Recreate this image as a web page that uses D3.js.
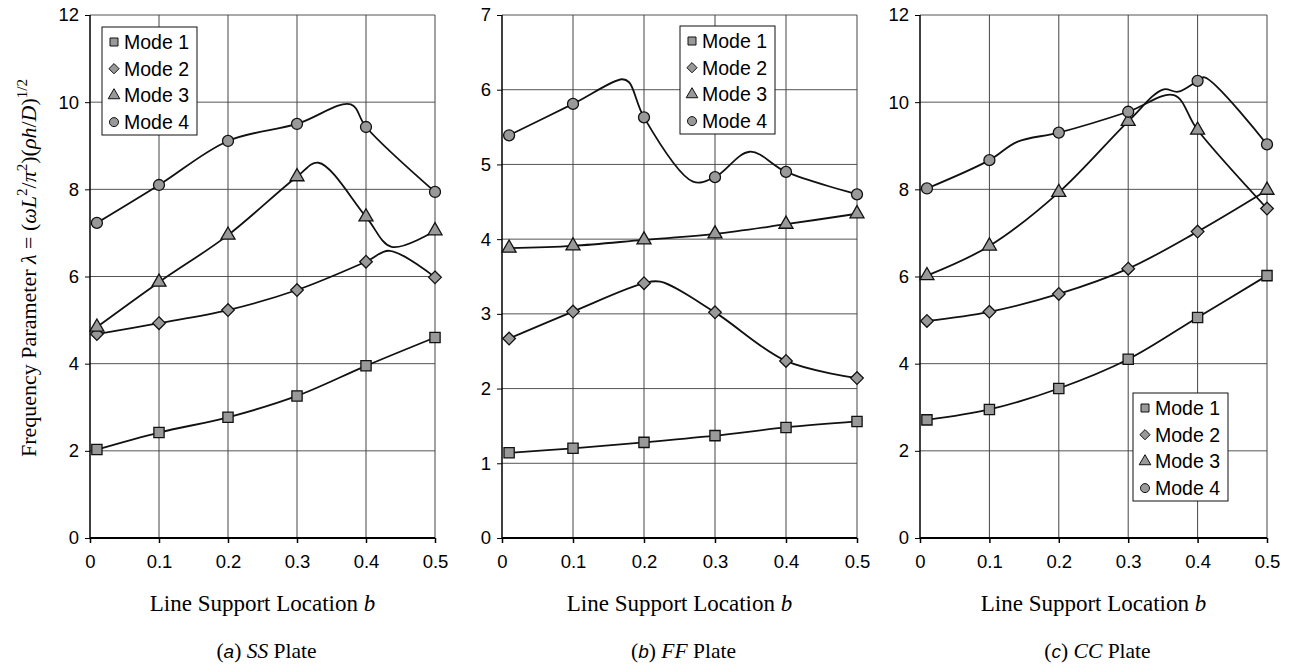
<!DOCTYPE html>
<html>
<head>
<meta charset="utf-8">
<script src="https://cdn.jsdelivr.net/npm/d3@7"></script>
<style>
  body { margin: 0; background: #fff; }
  text { fill: #000; }
</style>
</head>
<body>
<script>
const modeNames = ['Mode 1', 'Mode 2', 'Mode 3', 'Mode 4'];
const bValues = [0.01, 0.1, 0.2, 0.3, 0.4, 0.5];
const xTickValues = [0, 0.1, 0.2, 0.3, 0.4, 0.5];

// (a) SS plate: marker values per mode
const ssMode1 = [2.03, 2.42, 2.77, 3.26, 3.95, 4.6];
const ssMode2 = [4.68, 4.93, 5.23, 5.69, 6.34, 5.98];
const ssMode3 = [4.84, 5.87, 6.95, 8.29, 7.37, 7.05];
const ssMode4 = [7.23, 8.1, 9.11, 9.5, 9.43, 7.94];
// curves, including the peaks and dips between markers
const ssCurve1 = [[0.01, 2.03], [0.1, 2.42], [0.2, 2.77], [0.3, 3.26], [0.4, 3.95], [0.5, 4.6]];
const ssCurve2 = [[0.01, 4.68], [0.1, 4.93], [0.2, 5.23], [0.3, 5.69], [0.4, 6.34], [0.434, 6.59], [0.5, 5.98]];
const ssCurve3 = [[0.01, 4.84], [0.1, 5.87], [0.2, 6.95], [0.3, 8.29], [0.331, 8.61], [0.4, 7.37], [0.437, 6.68], [0.5, 7.05]];
const ssCurve4 = [[0.01, 7.23], [0.1, 8.1], [0.2, 9.11], [0.3, 9.5], [0.378, 9.95], [0.4, 9.43], [0.5, 7.94]];

// (b) FF plate
const ffMode1 = [1.14, 1.2, 1.28, 1.37, 1.48, 1.56];
const ffMode2 = [2.67, 3.03, 3.41, 3.02, 2.37, 2.14];
const ffMode3 = [3.88, 3.91, 3.99, 4.07, 4.2, 4.34];
const ffMode4 = [5.39, 5.81, 5.63, 4.83, 4.9, 4.6];
const ffCurve1 = [[0.01, 1.14], [0.1, 1.2], [0.2, 1.28], [0.3, 1.37], [0.4, 1.48], [0.5, 1.56]];
const ffCurve2 = [[0.01, 2.67], [0.1, 3.03], [0.2, 3.41], [0.223, 3.43], [0.3, 3.02], [0.4, 2.37], [0.5, 2.14]];
const ffCurve3 = [[0.01, 3.88], [0.1, 3.91], [0.2, 3.99], [0.3, 4.07], [0.4, 4.2], [0.5, 4.34]];
const ffCurve4 = [[0.01, 5.39], [0.1, 5.81], [0.169, 6.14], [0.179, 6.1], [0.2, 5.63], [0.269, 4.77], [0.3, 4.83], [0.349, 5.17], [0.4, 4.9], [0.5, 4.6]];

// (c) CC plate
const ccMode1 = [2.71, 2.95, 3.43, 4.1, 5.06, 6.02];
const ccMode2 = [4.98, 5.19, 5.6, 6.18, 7.03, 7.56];
const ccMode3 = [6.02, 6.7, 7.93, 9.56, 9.36, 7.98];
const ccMode4 = [8.02, 8.67, 9.3, 9.78, 10.49, 9.03];
const ccCurve1 = [[0.01, 2.71], [0.1, 2.95], [0.2, 3.43], [0.3, 4.1], [0.4, 5.06], [0.5, 6.02]];
const ccCurve2 = [[0.01, 4.98], [0.1, 5.19], [0.2, 5.6], [0.3, 6.18], [0.4, 7.03], [0.5, 7.98]];
const ccCurve3 = [[0.01, 6.02], [0.1, 6.7], [0.2, 7.93], [0.3, 9.56], [0.35, 10.29], [0.372, 10.24], [0.4, 10.49], [0.41, 10.57], [0.5, 9.03]];
const ccCurve4 = [[0.01, 8.02], [0.1, 8.67], [0.14, 9.09], [0.2, 9.3], [0.3, 9.78], [0.366, 10.16], [0.4, 9.36], [0.5, 7.56]];

const ssTicks = [0, 2, 4, 6, 8, 10, 12];
const ffTicks = [0, 1, 2, 3, 4, 5, 6, 7];
const ccTicks = [0, 2, 4, 6, 8, 10, 12];

const panels = [
  {left: 90, right: 435, yMax: 12, yTicks: ssTicks, modes: [ssMode1, ssMode2, ssMode3, ssMode4],
   curves: [ssCurve1, ssCurve2, ssCurve3, ssCurve4], legend: [102, 27], tag: 'a', plate: 'SS'},
  {left: 502, right: 857, yMax: 7, yTicks: ffTicks, modes: [ffMode1, ffMode2, ffMode3, ffMode4],
   curves: [ffCurve1, ffCurve2, ffCurve3, ffCurve4], legend: [680, 26], tag: 'b', plate: 'FF'},
  {left: 920, right: 1267, yMax: 12, yTicks: ccTicks, modes: [ccMode1, ccMode2, ccMode3, ccMode4],
   curves: [ccCurve1, ccCurve2, ccCurve3, ccCurve4], legend: [1133, 393], tag: 'c', plate: 'CC'}
];

const plotTop = 15, plotBottom = 538;
const sans = '"Liberation Sans", Arial, sans-serif',
    serif = '"Liberation Serif", "Times New Roman", serif';

// Excel style diamond: a square turned by 45 degrees
const squareDiamond = {
  draw(ctx, size) {
    const r = Math.sqrt(size / 2);
    ctx.moveTo(0, -r);
    ctx.lineTo(r, 0);
    ctx.lineTo(0, r);
    ctx.lineTo(-r, 0);
    ctx.closePath();
  }
};
const symbols = [d3.symbolSquare, squareDiamond, d3.symbolTriangle, d3.symbolCircle];
const symbolSizes = [105, 80, 85, 95];
const legendSizes = [64, 52, 58, 64];

const svg = d3.select('body').append('svg')
    .attr('width', 1292)
    .attr('height', 667);

panels.forEach(p => {
  const x = d3.scaleLinear().domain([0, 0.5]).range([p.left, p.right]);
  const y = d3.scaleLinear().domain([0, p.yMax]).range([plotBottom, plotTop]);
  const g = svg.append('g');

  // grid
  g.append('g').selectAll('line').data(p.yTicks.filter(t => t > 0)).join('line')
      .attr('x1', p.left).attr('x2', p.right)
      .attr('y1', d => y(d)).attr('y2', d => y(d))
      .attr('stroke', '#555').attr('stroke-width', 1);
  g.append('g').selectAll('line').data(xTickValues.filter(t => t > 0)).join('line')
      .attr('x1', d => x(d)).attr('x2', d => x(d))
      .attr('y1', plotTop).attr('y2', plotBottom)
      .attr('stroke', '#444').attr('stroke-width', 1);

  // axes
  const yAxis = d3.axisLeft(y).tickValues(p.yTicks).tickFormat(d3.format('d')).tickSize(5).tickPadding(6);
  const ya = g.append('g').attr('transform', `translate(${p.left},0)`).call(yAxis);
  ya.select('.domain').attr('stroke', '#000').attr('stroke-width', 1.5).attr('d', `M0,${plotTop}V${plotBottom}`);
  ya.selectAll('text').attr('font-family', sans).attr('font-size', 18.5).attr('fill', '#000');

  const xAxis = d3.axisBottom(x).tickValues(xTickValues)
      .tickFormat(d => d === 0 ? '0' : d3.format('.1f')(d)).tickSize(5).tickPadding(12);
  const xa = g.append('g').attr('transform', `translate(0,${plotBottom})`).call(xAxis);
  xa.select('.domain').attr('stroke', '#000').attr('stroke-width', 2).attr('d', `M${p.left},0H${p.right}`);
  xa.selectAll('.tick line').attr('stroke-width', 1.5);
  xa.selectAll('text').attr('font-family', sans).attr('font-size', 18.5).attr('fill', '#000');

  // curves
  const line = d3.line().x(d => x(d[0])).y(d => y(d[1])).curve(d3.curveCatmullRom.alpha(0.5));
  g.append('g').selectAll('path').data(p.curves).join('path')
      .attr('d', line)
      .attr('fill', 'none').attr('stroke', '#111').attr('stroke-width', 1.8);

  // markers
  p.modes.forEach((vals, i) => {
    g.append('g').selectAll('path').data(vals).join('path')
        .attr('transform', (d, j) => `translate(${x(bValues[j])},${y(d)})`)
        .attr('d', d3.symbol(symbols[i], symbolSizes[i]))
        .attr('fill', '#999').attr('stroke', '#111').attr('stroke-width', 1.3);
  });

  // legend
  const [lx, ly] = p.legend;
  const lg = g.append('g').attr('transform', `translate(${lx},${ly})`);
  lg.append('rect').attr('width', 95).attr('height', 108)
      .attr('fill', '#fff').attr('stroke', '#111').attr('stroke-width', 1);
  modeNames.forEach((m, i) => {
    const row = lg.append('g').attr('transform', `translate(0,${15 + i * 26.7})`);
    row.append('path').attr('transform', 'translate(12,0)')
        .attr('d', d3.symbol(symbols[i], legendSizes[i]))
        .attr('fill', '#999').attr('stroke', '#111').attr('stroke-width', 1);
    row.append('text').attr('x', 22).attr('y', 7)
        .attr('font-family', sans).attr('font-size', 19.5).text(m);
  });

  // x title
  const cx = (p.left + p.right) / 2;
  const xt = g.append('text').attr('x', cx).attr('y', 611).attr('text-anchor', 'middle')
      .attr('font-family', serif).attr('font-size', 23);
  xt.append('tspan').text('Line Support Location ');
  xt.append('tspan').attr('font-style', 'italic').text('b');

  // caption
  const cap = g.append('text').attr('x', cx + 4).attr('y', 658).attr('text-anchor', 'middle')
      .attr('font-family', serif).attr('font-size', 21.5);
  cap.append('tspan').text('(');
  cap.append('tspan').attr('font-family', sans).attr('font-style', 'italic').attr('font-size', 19).text(p.tag);
  cap.append('tspan').text(') ');
  cap.append('tspan').attr('font-style', 'italic').text(p.plate);
  cap.append('tspan').text(' Plate');
});

// y title
const yt = svg.append('text')
    .attr('transform', 'translate(36,268) rotate(-90)')
    .attr('text-anchor', 'middle')
    .attr('font-family', serif).attr('font-size', 22);
const parts = [
  ['Frequency Parameter ', 0], ['λ', 1], [' = (', 0], ['ωL', 1], ['2', 2], ['/', 0], ['π', 1], ['2', 2],
  [')(', 0], ['ρh', 1], ['/', 0], ['D', 1], [')', 0], ['1/2', 2]
];
let raised = false;
parts.forEach(([t, k]) => {
  const ts = yt.append('tspan').text(t);
  if (k === 1) ts.attr('font-style', 'italic');
  if (k === 2) {
    ts.attr('font-size', 15).attr('dy', raised ? 0 : -9);
    raised = true;
  } else if (raised) {
    ts.attr('dy', 9);
    raised = false;
  }
});
</script>
</body>
</html>
